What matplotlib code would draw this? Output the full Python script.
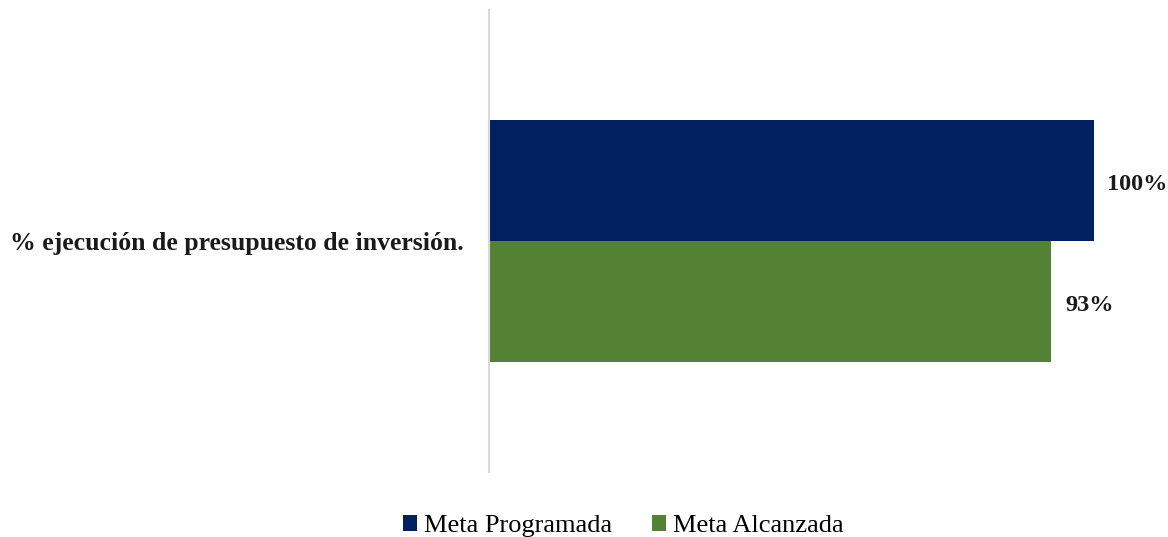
import matplotlib
matplotlib.use("Agg")
import matplotlib.pyplot as plt
from matplotlib.patches import Patch

category = "% ejecución de presupuesto de inversión."
series = ["Meta Programada", "Meta Alcanzada"]
values = [100, 93]
labels = ["100%", "93%"]
colors = ["#002060", "#548235"]

plt.rcParams["font.family"] = ["Liberation Serif", "DejaVu Serif"]

fig = plt.figure(figsize=(11.68, 5.37), dpi=100)
ax = fig.add_axes([489 / 1168, 1 - 472 / 537, (1154 - 489) / 1168, 462 / 537])

h = 0.262
offsets = [h / 2, -h / 2]
for val, lab, col, off in zip(values, labels, colors, offsets):
    ax.barh(off, val, height=h, color=col)
    ax.text(val + 2.3, off - 0.008, lab, va="center", ha="left",
            fontsize=17.5, fontweight="bold", color="#1a1a1a")

ax.set_xlim(0, 110)
ax.set_ylim(-0.5, 0.5)
ax.set_xticks([])
ax.set_yticks([0])
ax.set_yticklabels([category], fontsize=18.5, fontweight="bold", color="#1a1a1a")
ax.tick_params(axis="y", length=0, pad=18)
for s in ["top", "right", "bottom"]:
    ax.spines[s].set_visible(False)
ax.spines["left"].set_color("#d9d9d9")
ax.spines["left"].set_linewidth(1.5)

handles = [Patch(facecolor=c, label=s) for c, s in zip(colors, series)]
fig.legend(handles=handles, loc="center", bbox_to_anchor=(623 / 1168, 1 - 526 / 537),
           ncol=2, frameon=False, fontsize=19, handlelength=0.55, handleheight=0.55,
           handletextpad=0.25, columnspacing=1.5, borderpad=0.1)

fig.savefig("out.png", dpi=100)
